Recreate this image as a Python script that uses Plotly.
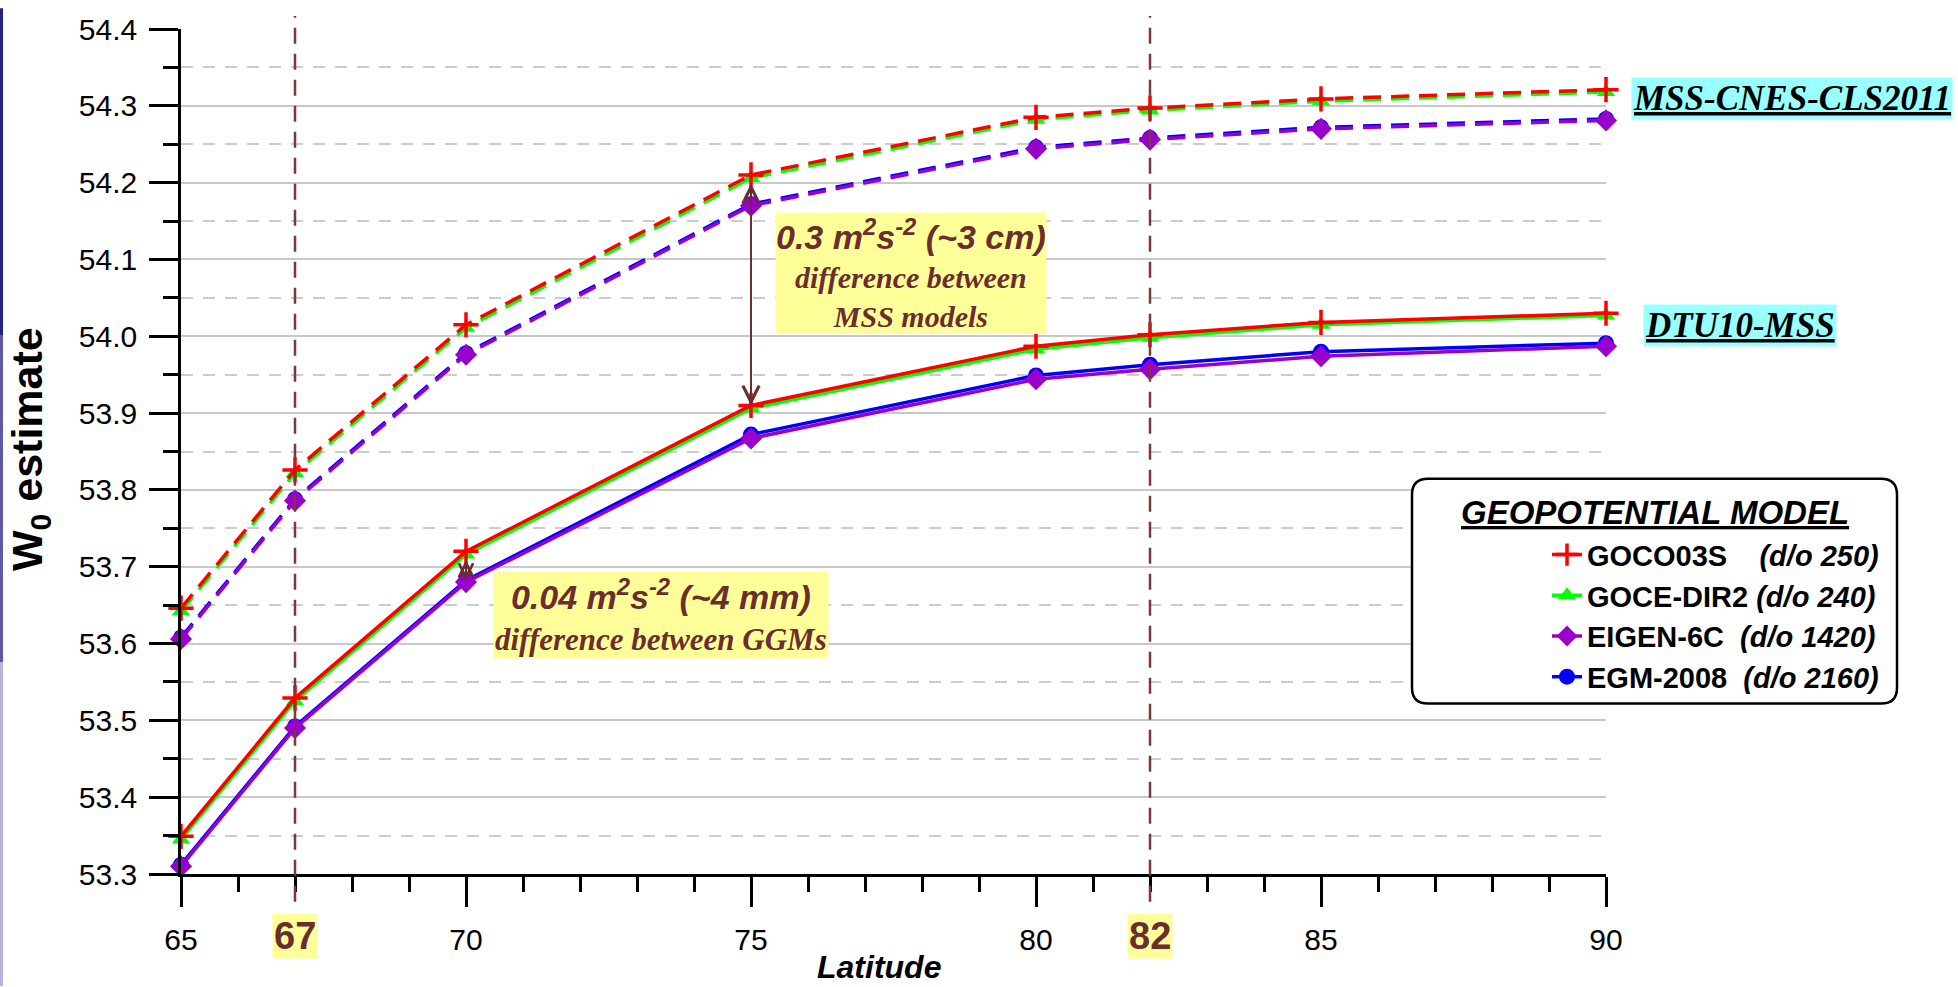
import plotly.graph_objects as go

# ---------------- data ----------------
latitude = [65, 67, 70, 75, 80, 82, 85, 90]
highlight_lats = [67, 82]

models = ["GOCO03S", "GOCE-DIR2", "EIGEN-6C", "EGM-2008"]
degree_order = ["250", "240", "1420", "2160"]

# W0 estimates with DTU10-MSS (solid lines)
dtu_goco03s = [53.349, 53.529, 53.720, 53.910, 53.987, 54.002, 54.018, 54.030]
dtu_gocedir2 = [53.345, 53.525, 53.716, 53.906, 53.983, 53.998, 54.015, 54.027]
dtu_eigen6c = [53.310, 53.490, 53.680, 53.867, 53.944, 53.957, 53.974, 53.987]
dtu_egm2008 = [53.312, 53.492, 53.682, 53.872, 53.949, 53.963, 53.980, 53.991]

# W0 estimates with MSS-CNES-CLS2011 (dashed lines)
cnes_goco03s = [53.646, 53.826, 54.015, 54.210, 54.285, 54.297, 54.309, 54.321]
cnes_gocedir2 = [53.642, 53.822, 54.011, 54.206, 54.282, 54.294, 54.306, 54.318]
cnes_eigen6c = [53.606, 53.786, 53.976, 54.170, 54.244, 54.256, 54.270, 54.281]
cnes_egm2008 = [53.608, 53.788, 53.978, 54.172, 54.246, 54.258, 54.272, 54.283]

# ---------------- styles ----------------
BROWN = "#6b2e2e"
YELLOW = "#ffff99"
CYAN = "#99ffff"
SANS = "Liberation Sans, Arial, sans-serif"
SERIF = "Liberation Serif, Times New Roman, serif"

style = {
    "GOCO03S": dict(color="#ff0000", symbol="cross-thin", size=18, lw=3.5),
    "GOCE-DIR2": dict(color="#00ff00", symbol="triangle-up", size=16, lw=3.5),
    "EIGEN-6C": dict(color="#9900cc", symbol="diamond", size=17, lw=3.5),
    "EGM-2008": dict(color="#0000ff", symbol="circle", size=16, lw=3.5),
}
gaps = {"GOCO03S": 4, "GOCE-DIR2": 1, "EIGEN-6C": 2, "EGM-2008": 2}

dtu = dict(zip(models, [dtu_goco03s, dtu_gocedir2, dtu_eigen6c, dtu_egm2008]))
cnes = dict(zip(models, [cnes_goco03s, cnes_gocedir2, cnes_eigen6c, cnes_egm2008]))

fig = go.Figure()

# draw order: EGM first, GOCO03S on top
draw_order = ["EGM-2008", "EIGEN-6C", "GOCE-DIR2", "GOCO03S"]
for dash_kind, table in (("dash", cnes), ("solid", dtu)):
    for m in draw_order:
        s = style[m]
        marker = dict(symbol=s["symbol"], size=s["size"], color=s["color"])
        if s["symbol"] == "cross-thin":
            marker["line"] = dict(color=s["color"], width=3.5)
        else:
            marker["line"] = dict(width=0)
        d = degree_order[models.index(m)]
        name = ("<b>%s</b>%s<b><i>(d/o %s)</i></b>"
                % (m, "\u00a0" * gaps[m], d))
        fig.add_trace(go.Scatter(
            x=latitude, y=table[m], mode="lines+markers",
            line=dict(color=s["color"], width=s["lw"],
                      dash="18px,10px" if dash_kind == "dash" else "solid"),
            marker=marker, name=name, cliponaxis=False,
            showlegend=(dash_kind == "solid"),
            legendrank=models.index(m) + 1,
        ))

# ---------------- geometry helpers (pixel -> paper) ----------------
L, R, T, B = 181, 352, 21, 113
W, H = 1958, 987
PW, PH = W - L - R, H - T - B


def px(xp):
    return (xp - L) / PW


def py(yp):
    return (H - B - yp) / PH


shapes = []
# vertical reference lines at highlighted latitudes
for lat in highlight_lats:
    shapes.append(dict(type="line", xref="x", yref="paper", x0=lat, x1=lat,
                       y0=py(902), y1=py(8),
                       line=dict(color="#7a3a3a", width=2.5, dash="16px,10px"),
                       layer="above"))

# rounded legend frame
x1, x2, y1, y2, r = 1412, 1897, 475, 702, 16
path = ("M {a},{b} L {c},{b} Q {d},{b} {d},{e} L {d},{f} Q {d},{g} {c},{g} "
        "L {a},{g} Q {h},{g} {h},{f} L {h},{e} Q {h},{b} {a},{b} Z").format(
    a=px(x1 + r), b=py(y1), c=px(x2 - r), d=px(x2), e=py(y1 + r),
    f=py(y2 - r), g=py(y2), h=px(x1))
shapes.append(dict(type="path", xref="paper", yref="paper", path=path,
                   fillcolor="white", line=dict(color="black", width=2.5),
                   layer="above"))

# left decorative strip
for (ya, yb, c) in ((0, 330, "#23237f"), (330, 660, "#5a5aa8"), (660, 987, "#b4b4d8")):
    shapes.append(dict(type="rect", xref="paper", yref="paper",
                       x0=px(0), x1=px(3), y0=py(yb), y1=py(ya),
                       fillcolor=c, line=dict(width=0), layer="above"))

annotations = []
# highlighted x labels
for lat in highlight_lats:
    annotations.append(dict(x=lat, y=py(937), xref="x", yref="paper",
                            text="<b>%d</b>" % lat, showarrow=False,
                            font=dict(family=SANS, size=38, color=BROWN),
                            bgcolor=YELLOW, borderpad=1,
                            xanchor="center", yanchor="middle"))

# axis titles
annotations.append(dict(x=px(879), y=py(968), xref="paper", yref="paper",
                        text="<b><i>Latitude</i></b>", showarrow=False,
                        font=dict(family=SANS, size=32, color="black"),
                        xanchor="center", yanchor="middle"))
annotations.append(dict(x=px(30), y=py(445), xref="paper", yref="paper",
                        text="<b>W<sub>0</sub> estimate</b>", showarrow=False,
                        textangle=-90,
                        font=dict(family=SANS, size=43, color="black"),
                        xanchor="center", yanchor="middle"))

# double arrows derived from data
i75 = latitude.index(75)
annotations.append(dict(x=75, y=dtu_goco03s[i75], ax=75, ay=cnes_goco03s[i75],
                        xref="x", yref="y", axref="x", ayref="y", text=" ",
                        showarrow=True, arrowside="end+start", arrowhead=5,
                        startarrowhead=5, arrowsize=1.6, startarrowsize=1.6,
                        arrowwidth=2, arrowcolor=BROWN, standoff=0, startstandoff=0))
i70 = latitude.index(70)
annotations.append(dict(x=70, y=dtu_egm2008[i70], ax=70, ay=dtu_goco03s[i70],
                        xref="x", yref="y", axref="x", ayref="y", text=" ",
                        showarrow=True, arrowside="end+start", arrowhead=5,
                        startarrowhead=5, arrowsize=1.4, startarrowsize=1.4,
                        arrowwidth=2, arrowcolor=BROWN, standoff=0, startstandoff=0))

# explanatory boxes
txt1 = ("<span style='font-family:Liberation Sans;font-size:34px'><b><i>0.3 m<sup>2</sup>s<sup>-2</sup> (~3 cm)</i></b></span><br>"
        "<b><i>difference between</i></b><br><b><i>MSS models</i></b>")
annotations.append(dict(x=px(911), y=py(267), xref="paper", yref="paper",
                        text=txt1, showarrow=False, bgcolor=YELLOW, borderpad=0,
                        font=dict(family=SERIF, size=30, color=BROWN),
                        xanchor="center", yanchor="middle", align="center"))
txt2 = ("<span style='font-family:Liberation Sans;font-size:34px'><b><i>0.04 m<sup>2</sup>s<sup>-2</sup> (~4 mm)</i></b></span><br>"
        "<b><i>difference between GGMs</i></b>")
annotations.append(dict(x=px(661), y=py(613), xref="paper", yref="paper",
                        text=txt2, showarrow=False, bgcolor=YELLOW, borderpad=1,
                        font=dict(family=SERIF, size=31, color=BROWN),
                        xanchor="center", yanchor="middle", align="center"))

# MSS labels
annotations.append(dict(x=px(1631), y=py(91), xref="paper", yref="paper",
                        text="<b><i><u>MSS-CNES-CLS2011</u></i></b>", showarrow=False,
                        bgcolor=CYAN, borderpad=1,
                        font=dict(family=SERIF, size=35, color="black"),
                        xanchor="left", yanchor="middle"))
annotations.append(dict(x=px(1643), y=py(320), xref="paper", yref="paper",
                        text="<b><i><u>DTU10-MSS</u></i></b>", showarrow=False,
                        bgcolor=CYAN, borderpad=1,
                        font=dict(family=SERIF, size=35, color="black"),
                        xanchor="left", yanchor="middle"))

# legend title
annotations.append(dict(x=px(1655), y=py(509), xref="paper", yref="paper",
                        text="<b><i><u>GEOPOTENTIAL MODEL</u></i></b>", showarrow=False,
                        font=dict(family=SANS, size=33, color="black"),
                        xanchor="center", yanchor="middle"))

fig.update_layout(
    width=W, height=H, autosize=False,
    margin=dict(l=L, r=R, t=T, b=B, pad=0),
    paper_bgcolor="white", plot_bgcolor="white",
    font=dict(family=SANS, color="black"),
    shapes=shapes, annotations=annotations,
    legend=dict(x=px(1547), y=py(526), xanchor="left", yanchor="top",
                bgcolor="rgba(0,0,0,0)", borderwidth=0,
                font=dict(family=SANS, size=29, color="black"),
                traceorder="normal", tracegroupgap=0),
    xaxis=dict(range=[65, 90], tickmode="linear", tick0=65, dtick=5,
               showgrid=False, zeroline=False,
               showline=True, linecolor="black", linewidth=2.5,
               ticks="outside", ticklen=30, tickwidth=2.5, tickcolor="black",
               ticklabelstandoff=7,
               tickfont=dict(family=SANS, size=30, color="black"),
               minor=dict(dtick=1, ticks="outside", ticklen=15, tickwidth=2.5,
                          tickcolor="black", showgrid=False)),
    yaxis=dict(range=[53.3, 54.4], tickmode="linear", tick0=53.3, dtick=0.1,
               tickformat=".1f",
               showgrid=True, gridcolor="#c8c8c8", gridwidth=1.5,
               zeroline=False,
               showline=True, linecolor="black", linewidth=2.5,
               ticks="outside", ticklen=29, tickwidth=2.5, tickcolor="black",
               ticklabelstandoff=6,
               tickfont=dict(family=SANS, size=30, color="black"),
               minor=dict(dtick=0.05, tick0=53.3, ticks="outside", ticklen=15,
                          tickwidth=2.5, tickcolor="black", showgrid=True,
                          gridcolor="#cccccc", gridwidth=1.5, griddash="12px,10px")),
)

fig.write_html("out.html", config={"displayModeBar": False},
               post_script="document.body.style.margin='0px';document.body.style.overflow='hidden';")
